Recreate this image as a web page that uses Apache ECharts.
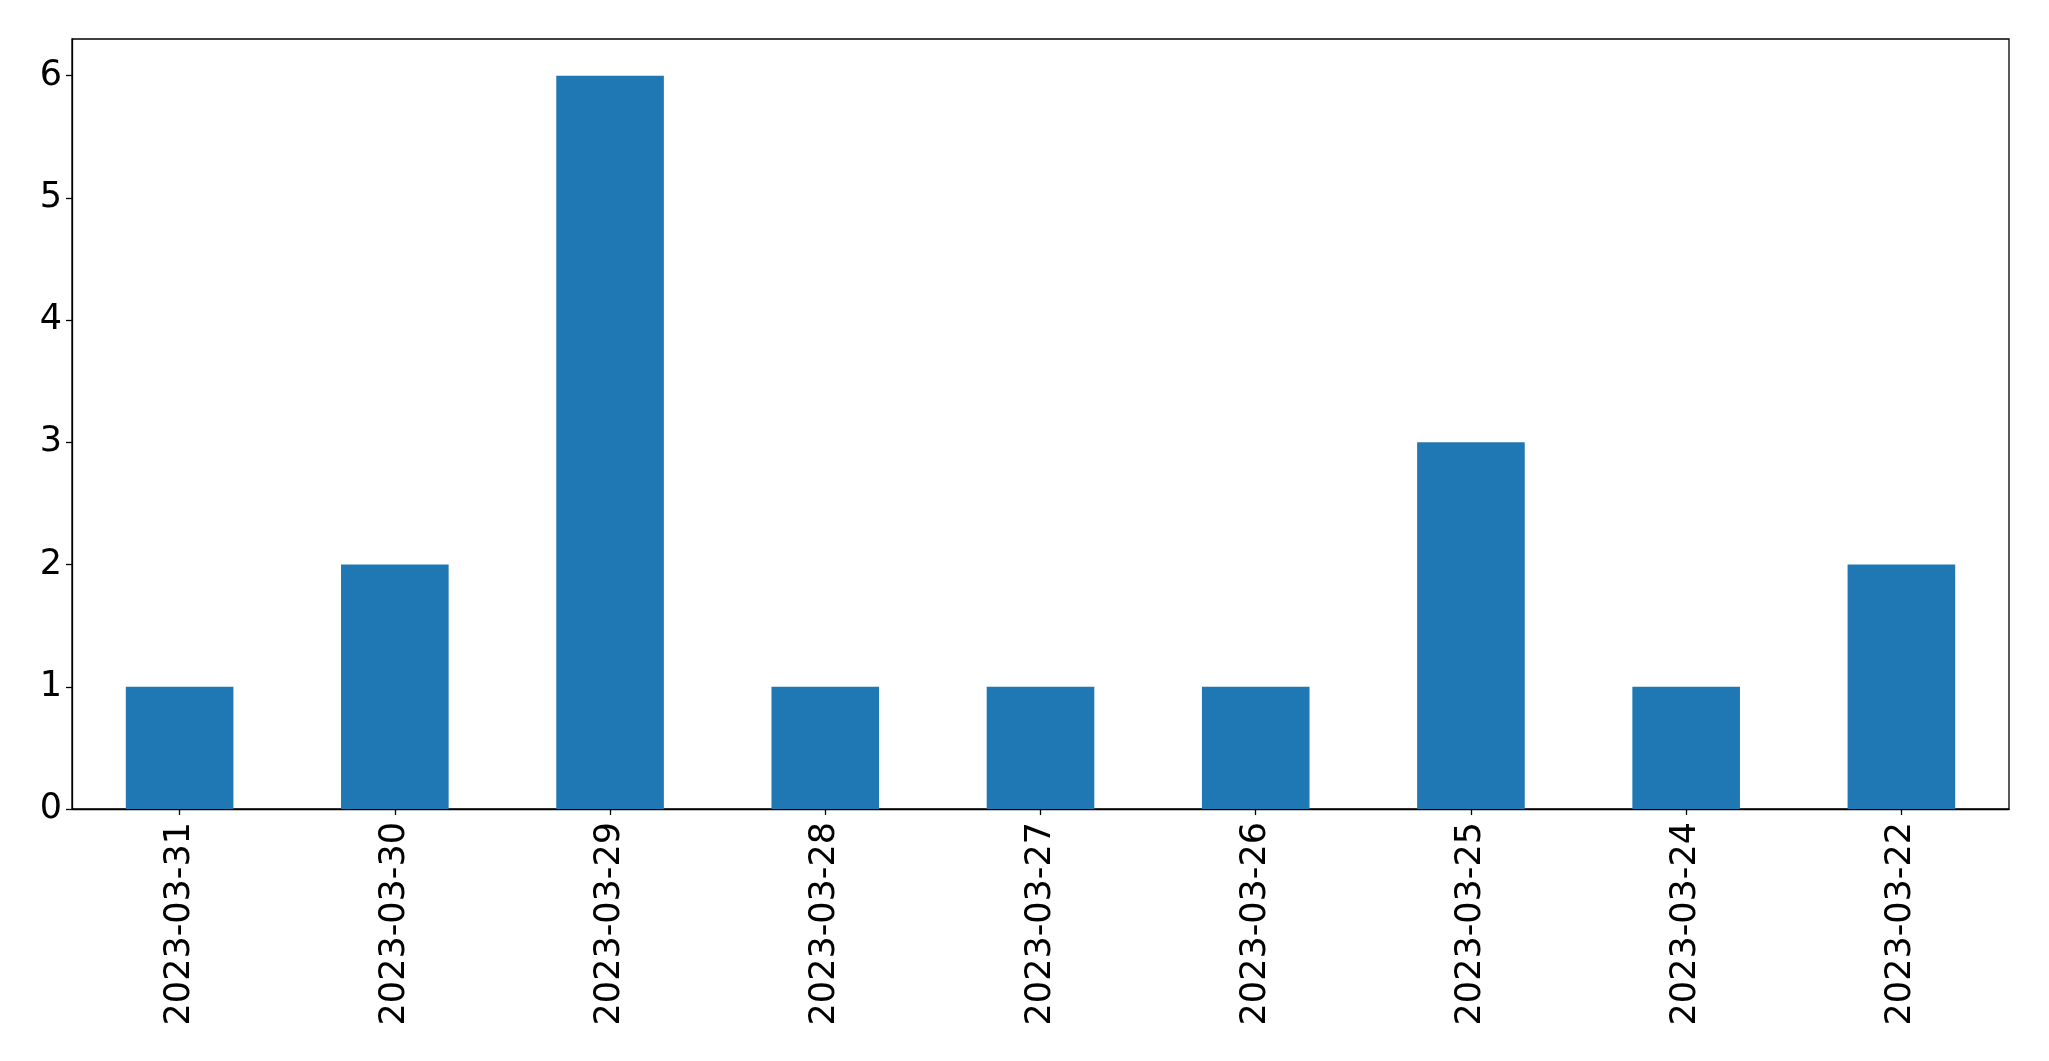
<!DOCTYPE html>
<html>
<head>
<meta charset="utf-8">
<script src="https://cdn.jsdelivr.net/npm/echarts@6/dist/echarts.min.js"></script>
<style>html,body{margin:0;padding:0;background:#fff;}#c{width:2049px;height:1061px;}</style>
</head>
<body>
<div id="c"></div>
<script>
const categories = ['2023-03-31','2023-03-30','2023-03-29','2023-03-28','2023-03-27','2023-03-26','2023-03-25','2023-03-24','2023-03-22'];
const values = [1, 2, 6, 1, 1, 1, 3, 1, 2];
const yTicks = [0, 1, 2, 3, 4, 5, 6];

const chart = echarts.init(document.getElementById('c'), null, {renderer: 'canvas'});
chart.setOption({
  animation: false,
  backgroundColor: '#fff',
  grid: {left: 72, top: 39, width: 1937, height: 770, show: true, borderColor: '#000', borderWidth: 1.3, containLabel: false, outerBoundsMode: 'none'},
  xAxis: {
    type: 'category', data: categories, boundaryGap: true,
    axisLine: {lineStyle: {color: '#000', width: 1.3}},
    axisTick: {show: true, alignWithLabel: true, length: 6, lineStyle: {color: '#000', width: 1.3}},
    axisLabel: {rotate: 90, margin: 13, fontSize: 35, color: '#000', fontFamily: 'DejaVu Sans', interval: 0},
    splitLine: {show: false}
  },
  yAxis: {
    type: 'value', min: 0, max: 6.3, interval: 1,
    axisLine: {show: true, lineStyle: {color: '#000', width: 1.3}},
    axisTick: {show: true, length: 6, lineStyle: {color: '#000', width: 1.3}, customValues: yTicks},
    axisLabel: {margin: 10, fontSize: 35, color: '#000', fontFamily: 'DejaVu Sans', customValues: yTicks},
    splitLine: {show: false}
  },
  series: [{type: 'bar', data: values, barWidth: '50%', itemStyle: {color: '#1f77b4'}}]
});
</script>
</body>
</html>
